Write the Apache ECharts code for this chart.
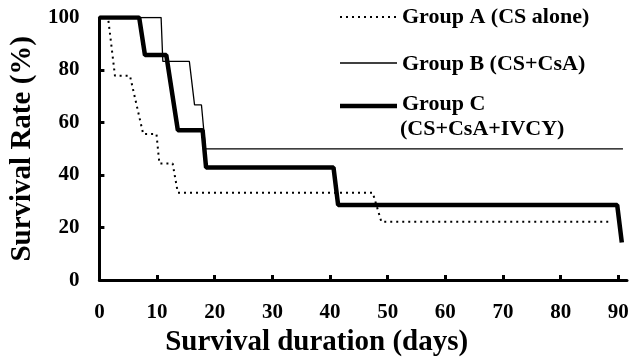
<!DOCTYPE html>
<html>
<head>
<meta charset="utf-8">
<script src="https://cdn.jsdelivr.net/npm/echarts@6/dist/echarts.min.js"></script>
<style>
html,body{margin:0;padding:0;background:#fff;}
#chart{width:633px;height:362px;}
</style>
</head>
<body>
<div id="chart"></div>
<script>
// ---- data ----
var xTicks = [0, 10, 20, 30, 40, 50, 60, 70, 80, 90];
var yTicks = [0, 20, 40, 60, 80, 100];

var groupAName = 'Group A (CS alone)';
var groupADays   = [0, 1.5, 2.7, 5.3, 7.6, 9.9, 10.4, 12.7, 13.6, 47.4, 48.9, 88.8];
var groupAValues = [100, 100, 77.8, 77.8, 55.6, 55.6, 44.4, 44.4, 33.3, 33.3, 22.2, 22.2];

var groupBName = 'Group B (CS+CsA)';
var groupBDays   = [0, 10.7, 11.0, 15.6, 16.5, 17.7, 18.4, 90.8];
var groupBValues = [100, 100, 83.3, 83.3, 66.7, 66.7, 50, 50];

var groupCName = 'Group C';
var groupCName2 = '(CS+CsA+IVCY)';
var groupCDays   = [0, 6.9, 7.9, 11.6, 13.6, 17.9, 18.5, 40.6, 41.4, 89.8, 90.6];
var groupCValues = [100, 100, 85.7, 85.7, 57.1, 57.1, 42.9, 42.9, 28.6, 28.6, 14.3];

var xTitle = 'Survival duration (days)';
var yTitle = 'Survival Rate (%)';

function zip(a, b) { return a.map(function (v, i) { return [v, b[i]]; }); }

var FONT = 'Liberation Serif';
var LEGEND_FONT = 'bold 22px "Liberation Serif"';
var chart = echarts.init(document.getElementById('chart'), null, {renderer: 'canvas'});

var option = {
  animation: false,
  backgroundColor: '#fff',
  grid: {left: 96.5, right: 6, top: 17.5, bottom: 78, containLabel: false},
  xAxis: {
    type: 'value', min: 0, max: 91.5,
    name: xTitle, nameLocation: 'middle', nameGap: 45,
    nameTextStyle: {fontFamily: FONT, fontWeight: 'bold', fontSize: 29, color: '#000', padding: [0, 93, 0, 0]},
    axisLine: {show: true, onZero: false, lineStyle: {color: '#000', width: 3}},
    axisTick: {show: true, inside: true, length: 5, lineStyle: {color: '#000', width: 3}, customValues: xTicks.slice(1)},
    axisLabel: {show: true, margin: 22, fontFamily: FONT, fontWeight: 'bold', fontSize: 21, color: '#000', customValues: xTicks},
    splitLine: {show: false}
  },
  yAxis: {
    type: 'value', min: 0, max: 100, interval: 20,
    name: yTitle, nameLocation: 'middle', nameGap: 62,
    nameTextStyle: {fontFamily: FONT, fontWeight: 'bold', fontSize: 29, color: '#000'},
    axisLine: {show: true, lineStyle: {color: '#000', width: 3}},
    axisTick: {show: true, inside: true, length: 5, lineStyle: {color: '#000', width: 3}},
    axisLabel: {show: true, margin: 20, fontFamily: FONT, fontWeight: 'bold', fontSize: 21, color: '#000'},
    splitLine: {show: false}
  },
  series: [
    {name: groupAName, type: 'line', data: zip(groupADays, groupAValues), symbol: 'none', showSymbol: false,
     lineStyle: {color: '#000', width: 2, type: [2, 4]}, z: 3},
    {name: groupBName, type: 'line', data: zip(groupBDays, groupBValues), symbol: 'none', showSymbol: false,
     lineStyle: {color: '#000', width: 1.3}, z: 2},
    {name: groupCName, type: 'line', data: zip(groupCDays, groupCValues), symbol: 'none', showSymbol: false,
     lineStyle: {color: '#000', width: 4.5}, z: 4}
  ],
  graphic: [
    {type: 'line', shape: {x1: 340, y1: 17, x2: 397, y2: 17}, style: {stroke: '#000', lineWidth: 2, lineDash: [2, 4]}},
    {type: 'text', left: 402, top: 6, style: {text: groupAName, font: LEGEND_FONT, fill: '#000'}},
    {type: 'line', shape: {x1: 340, y1: 63, x2: 397, y2: 63}, style: {stroke: '#000', lineWidth: 1.3}},
    {type: 'text', left: 402, top: 53, style: {text: groupBName, font: LEGEND_FONT, fill: '#000'}},
    {type: 'line', shape: {x1: 340, y1: 106, x2: 397, y2: 106}, style: {stroke: '#000', lineWidth: 4.5}},
    {type: 'text', left: 402, top: 93, style: {text: groupCName, font: LEGEND_FONT, fill: '#000'}},
    {type: 'text', left: 400, top: 118, style: {text: groupCName2, font: LEGEND_FONT, fill: '#000'}}
  ]
};
chart.setOption(option);
</script>
</body>
</html>
